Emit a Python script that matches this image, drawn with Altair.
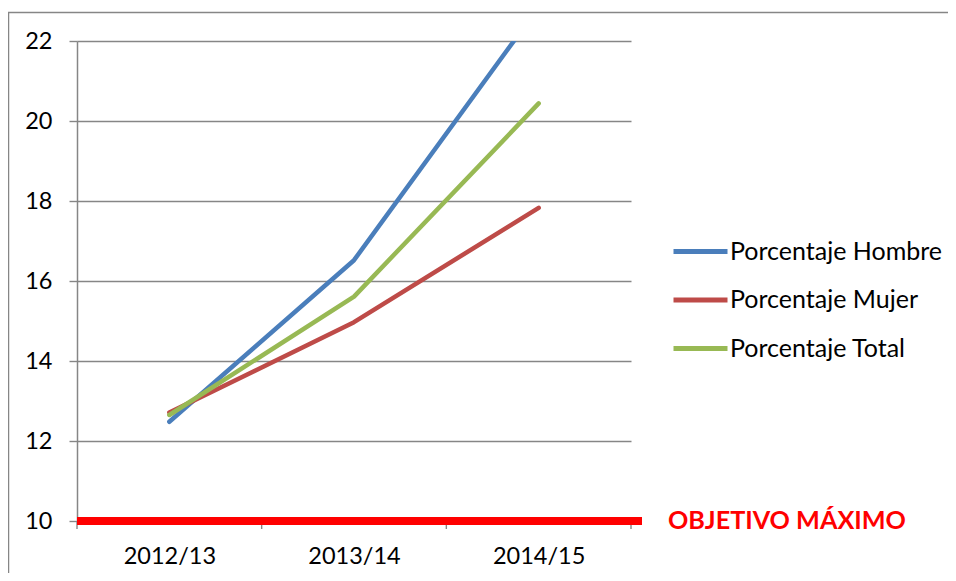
import altair as alt
import pandas as pd

categories = ["2012/13", "2013/14", "2014/15"]
series_names = ["Porcentaje Hombre", "Porcentaje Mujer", "Porcentaje Total"]
hombre = [12.48, 16.52, 22.85]
mujer = [12.71, 14.97, 17.83]
total = [12.65, 15.61, 20.44]
series_colors = ["#4A7EBB", "#BE4B48", "#98B954"]
objetivo_valor = 10
objetivo_texto = "OBJETIVO MÁXIMO"
y_ticks = [10, 12, 14, 16, 18, 20, 22]

rows = []
for name, vals in zip(series_names, [hombre, mujer, total]):
    for i, (c, v) in enumerate(zip(categories, vals)):
        rows.append({"serie": name, "curso": c, "pos": i + 0.5, "valor": v})
df = pd.DataFrame(rows)

W, H = 554, 480
FONT = "Lato"
GRAY = "#868686"

label_expr = "[" + ",".join("'" + c + "'" for c in categories) + "][floor(datum.value)]"

x_scale = alt.Scale(domain=[0, len(categories)], nice=False, zero=False)
y_scale = alt.Scale(domain=[y_ticks[0], y_ticks[-1]], nice=False, zero=False)

lines = alt.Chart(df).mark_line(strokeWidth=4.5, strokeCap="round", strokeJoin="round", clip=True).encode(
    x=alt.X("pos:Q", scale=x_scale,
            axis=alt.Axis(values=[i + 0.5 for i in range(len(categories))], labelExpr=label_expr,
                          ticks=False, domain=False, grid=False, title=None,
                          labelFont=FONT, labelFontSize=23.5, labelColor="#000000", labelPadding=23)),
    y=alt.Y("valor:Q", scale=y_scale,
            axis=alt.Axis(values=y_ticks, title=None, grid=True, gridColor=GRAY, gridWidth=1.4,
                          domainColor=GRAY, domainWidth=1.5, tickColor=GRAY, tickWidth=1.4, tickSize=8,
                          labelFont=FONT, labelFontSize=23.5, labelColor="#000000", labelPadding=17)),
    color=alt.Color("serie:N", scale=alt.Scale(domain=series_names, range=series_colors),
                    legend=alt.Legend(title=None, orient="none", legendX=594, legendY=181,
                                      symbolType="stroke", symbolSize=2916, symbolStrokeWidth=5,
                                      labelFont=FONT, labelFontSize=25, labelColor="#000000",
                                      labelOffset=0, rowPadding=5.5, labelLimit=400)),
    detail="serie:N",
)

# x-axis boundary ticks
tick_df = pd.DataFrame({"b": list(range(len(categories) + 1))})
xticks = alt.Chart(tick_df).mark_rule(color=GRAY, strokeWidth=1.4).encode(
    x=alt.X("b:Q", scale=x_scale),
    y=alt.value(H),
    y2=alt.value(H + 8),
)

obj_df = pd.DataFrame({"v": [objetivo_valor], "t": [objetivo_texto]})
obj_line = alt.Chart(obj_df).mark_rule(color="#FF0000", strokeWidth=8).encode(
    y=alt.Y("v:Q", scale=y_scale),
    x=alt.value(0),
    x2=alt.value(565),
)
obj_text = alt.Chart(obj_df).mark_text(align="left", baseline="middle", font=FONT, fontSize=25.2,
                                       fontWeight="bold", color="#FF0000").encode(
    y=alt.Y("v:Q", scale=y_scale),
    x=alt.value(591),
    text="t:N",
)

frame = alt.Chart(alt.Data(values=[{}])).mark_rect(fill=None, stroke=GRAY, strokeWidth=1.5).encode(
    x=alt.value(-68.5), y=alt.value(-28.5), x2=alt.value(W + 400), y2=alt.value(H + 200),
)

chart = alt.layer(frame, lines, xticks, obj_line, obj_text).properties(
    width=W, height=H,
    autosize=alt.AutoSizeParams(type="none"),
    padding={"left": 69, "top": 33, "right": 317, "bottom": 52},
).configure_view(stroke=None)

chart.save("out.html", embed_options={"renderer": "svg", "actions": False})
